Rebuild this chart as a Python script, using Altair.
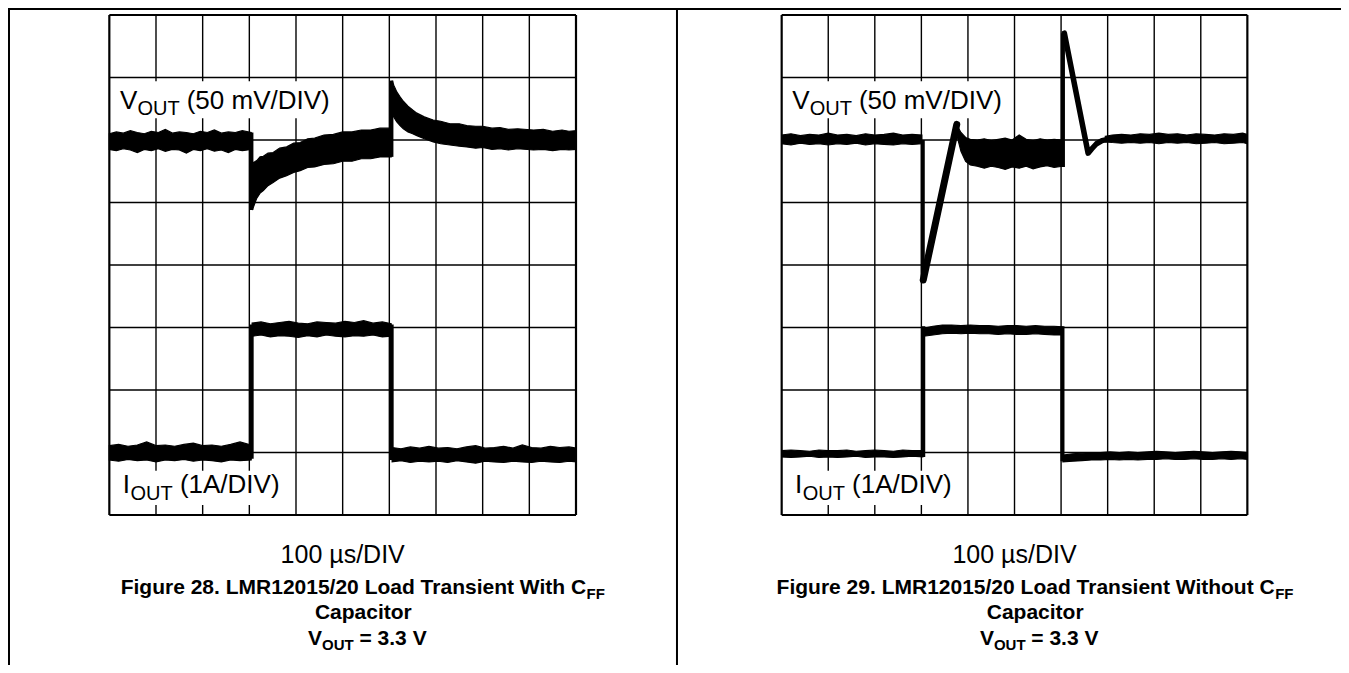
import altair as alt
import pandas as pd

FONT = "Liberation Sans, Arial, Helvetica, sans-serif"
W, H = 1333, 657
LX = [-2.1714, 26.393]   # left panel x domain (divisions)
RX = [-16.614, 12.011]   # right panel x domain (divisions)
YD = [-2.4, 8.112]       # y domain (divisions)

# ---------------- data (in scope divisions) ----------------
GRID_X_IN = [1, 2, 3, 4, 5, 6, 7, 8, 9]
GRID_X_OUT = [0, 10]
GRID_Y_IN = [1, 2, 3, 4, 5, 6, 7]
GRID_Y_OUT = [0, 8]

# Figure 28 (with CFF) - VOUT noisy band
L_V_PRE_X = [0.00, 0.15, 0.30, 0.45, 0.60, 0.75, 0.90, 1.05, 1.20, 1.35, 1.50, 1.65, 1.80, 1.95, 2.10, 2.25, 2.40, 2.55, 2.70, 2.85, 3.04]
L_V_PRE_HI = [6.10, 6.13, 6.11, 6.15, 6.12, 6.10, 6.14, 6.12, 6.17, 6.11, 6.13, 6.12, 6.10, 6.14, 6.12, 6.16, 6.11, 6.13, 6.12, 6.15, 6.12]
L_V_PRE_LO = [5.85, 5.83, 5.86, 5.84, 5.80, 5.85, 5.83, 5.86, 5.82, 5.85, 5.84, 5.79, 5.85, 5.83, 5.86, 5.82, 5.84, 5.80, 5.85, 5.83, 5.85]
L_V_LOAD_X = [3.06, 3.09, 3.16, 3.23, 3.30, 3.40, 3.51, 3.65, 3.80, 3.95, 4.09, 4.25, 4.40, 4.60, 4.80, 5.00, 5.20, 5.40, 5.60, 5.80, 6.04]
L_V_LOAD_HI = [5.55, 5.64, 5.67, 5.73, 5.74, 5.79, 5.80, 5.87, 5.89, 5.95, 5.96, 6.02, 6.03, 6.08, 6.09, 6.13, 6.13, 6.16, 6.16, 6.19, 6.19]
L_V_LOAD_LO = [4.88, 4.93, 5.07, 5.15, 5.19, 5.27, 5.32, 5.39, 5.43, 5.48, 5.51, 5.56, 5.57, 5.61, 5.62, 5.66, 5.66, 5.70, 5.70, 5.73, 5.73]
L_V_POST_X = [6.06, 6.10, 6.16, 6.23, 6.30, 6.40, 6.50, 6.59, 6.75, 6.94, 7.10, 7.30, 7.50, 7.66, 7.85, 8.00, 8.20, 8.37, 8.55, 8.75, 9.09, 9.30, 9.50, 9.70, 9.85, 10.0]
L_V_POST_HI = [6.95, 6.87, 6.77, 6.69, 6.62, 6.54, 6.48, 6.43, 6.37, 6.32, 6.30, 6.26, 6.26, 6.23, 6.22, 6.22, 6.19, 6.20, 6.17, 6.18, 6.16, 6.17, 6.14, 6.16, 6.14, 6.15]
L_V_POST_LO = [6.42, 6.36, 6.29, 6.23, 6.18, 6.13, 6.10, 6.07, 6.02, 5.97, 5.94, 5.92, 5.90, 5.89, 5.87, 5.88, 5.85, 5.86, 5.84, 5.86, 5.84, 5.85, 5.83, 5.85, 5.84, 5.85]
L_V_EDGE_X = [3.05, 6.05]
L_V_EDGE_Y1 = [4.88, 5.73]
L_V_EDGE_Y2 = [6.12, 6.95]

# Figure 28 - IOUT
L_I_X = [0.0, 0.2, 0.4, 0.6, 0.8, 1.0, 1.2, 1.4, 1.6, 1.8, 2.0, 2.2, 2.4, 2.6, 2.8, 3.04,
         3.06, 3.25, 3.45, 3.65, 3.85, 4.05, 4.25, 4.45, 4.65, 4.85, 5.05, 5.25, 5.45, 5.65, 5.85, 6.04,
         6.06, 6.25, 6.45, 6.65, 6.85, 7.05, 7.25, 7.45, 7.65, 7.85, 8.05, 8.25, 8.45, 8.65, 8.85, 9.05, 9.25, 9.45, 9.65, 9.85, 10.0]
L_I_HI = [1.11, 1.13, 1.10, 1.12, 1.17, 1.11, 1.12, 1.10, 1.13, 1.15, 1.11, 1.12, 1.10, 1.13, 1.17, 1.12,
          3.07, 3.09, 3.06, 3.08, 3.10, 3.07, 3.06, 3.09, 3.08, 3.07, 3.10, 3.08, 3.11, 3.07, 3.09, 3.06,
          1.08, 1.06, 1.09, 1.07, 1.10, 1.07, 1.08, 1.06, 1.09, 1.11, 1.07, 1.08, 1.10, 1.07, 1.12, 1.08, 1.07, 1.10, 1.08, 1.09, 1.07]
L_I_LO = [0.88, 0.86, 0.89, 0.87, 0.88, 0.85, 0.88, 0.87, 0.89, 0.86, 0.88, 0.87, 0.85, 0.88, 0.87, 0.88,
          2.86, 2.88, 2.85, 2.87, 2.86, 2.84, 2.87, 2.85, 2.88, 2.86, 2.85, 2.87, 2.86, 2.88, 2.85, 2.86,
          0.85, 0.87, 0.84, 0.86, 0.85, 0.86, 0.84, 0.87, 0.85, 0.83, 0.86, 0.85, 0.84, 0.86, 0.85, 0.84, 0.86, 0.85, 0.84, 0.86, 0.85]
L_I_EDGE_X = [3.05, 6.05]
L_I_EDGE_Y1 = [0.90, 0.88]
L_I_EDGE_Y2 = [3.05, 3.05]

# Figure 29 (without CFF) - VOUT
R_V_PRE_X = [0.0, 0.2, 0.4, 0.6, 0.8, 1.0, 1.2, 1.4, 1.6, 1.8, 2.0, 2.2, 2.4, 2.6, 2.8, 3.01]
R_V_PRE_HI = [6.08, 6.10, 6.07, 6.09, 6.08, 6.11, 6.08, 6.09, 6.07, 6.10, 6.08, 6.09, 6.11, 6.08, 6.09, 6.08]
R_V_PRE_LO = [5.94, 5.92, 5.95, 5.93, 5.94, 5.92, 5.94, 5.93, 5.95, 5.92, 5.94, 5.93, 5.92, 5.94, 5.93, 5.94]
R_V_RAMP1_X = [3.04, 3.76]
R_V_RAMP1_Y = [3.76, 6.25]
R_V_LOAD_X = [3.76, 3.85, 3.95, 4.05, 4.20, 4.35, 4.50, 4.65, 4.80, 4.95, 5.10, 5.25, 5.40, 5.55, 5.70, 5.85, 6.02]
R_V_LOAD_HI = [6.24, 6.12, 6.04, 6.01, 6.00, 6.02, 5.99, 6.01, 6.03, 6.00, 6.08, 6.01, 5.99, 6.02, 6.00, 6.01, 6.00]
R_V_LOAD_LO = [6.08, 5.82, 5.66, 5.60, 5.58, 5.55, 5.58, 5.56, 5.53, 5.57, 5.55, 5.58, 5.54, 5.57, 5.59, 5.56, 5.58]
R_V_RAMP2_X = [6.07, 6.58, 6.66, 6.76, 6.88, 7.00]
R_V_RAMP2_Y = [7.71, 5.79, 5.86, 5.94, 5.99, 6.01]
R_V_POST_X = [6.95, 7.10, 7.30, 7.50, 7.70, 7.90, 8.10, 8.30, 8.50, 8.70, 8.90, 9.10, 9.30, 9.50, 9.70, 9.90, 10.0]
R_V_POST_HI = [6.06, 6.08, 6.09, 6.08, 6.10, 6.09, 6.11, 6.09, 6.10, 6.08, 6.10, 6.09, 6.08, 6.10, 6.09, 6.11, 6.09]
R_V_POST_LO = [5.97, 5.96, 5.95, 5.96, 5.95, 5.96, 5.94, 5.96, 5.95, 5.96, 5.94, 5.95, 5.96, 5.94, 5.95, 5.96, 5.94]
R_V_EDGE_X = [3.03, 6.04]
R_V_EDGE_Y1 = [3.76, 5.57]
R_V_EDGE_Y2 = [6.00, 7.71]

# Figure 29 - IOUT
R_I_X = [0.0, 0.2, 0.4, 0.6, 0.8, 1.0, 1.2, 1.4, 1.6, 1.8, 2.0, 2.2, 2.4, 2.6, 2.8, 3.03,
         3.05, 3.25, 3.45, 3.65, 3.85, 4.05, 4.25, 4.45, 4.65, 4.85, 5.05, 5.25, 5.45, 5.65, 5.85, 6.02,
         6.04, 6.25, 6.45, 6.65, 6.85, 7.05, 7.25, 7.45, 7.65, 7.85, 8.05, 8.25, 8.45, 8.65, 8.85, 9.05, 9.25, 9.45, 9.65, 9.85, 10.0]
R_I_HI = [1.03, 1.04, 1.03, 1.02, 1.04, 1.03, 1.03, 1.04, 1.02, 1.03, 1.04, 1.03, 1.02, 1.04, 1.03, 1.03,
          2.99, 3.02, 3.04, 3.04, 3.03, 3.04, 3.03, 3.03, 3.02, 3.03, 3.03, 3.02, 3.03, 3.02, 3.02, 3.01,
          0.96, 0.98, 0.99, 1.00, 1.00, 1.01, 1.00, 1.01, 1.00, 1.01, 1.02, 1.01, 1.00, 1.01, 1.02, 1.01, 1.00, 1.01, 1.02, 1.01, 1.00]
R_I_LO = [0.93, 0.92, 0.93, 0.94, 0.92, 0.93, 0.92, 0.93, 0.94, 0.92, 0.93, 0.93, 0.92, 0.93, 0.94, 0.93,
          2.86, 2.88, 2.90, 2.91, 2.90, 2.91, 2.90, 2.90, 2.89, 2.90, 2.89, 2.89, 2.90, 2.89, 2.88, 2.88,
          0.85, 0.86, 0.87, 0.88, 0.88, 0.89, 0.88, 0.89, 0.88, 0.89, 0.89, 0.90, 0.89, 0.89, 0.90, 0.89, 0.89, 0.90, 0.89, 0.90, 0.89]
R_I_EDGE_X = [3.04, 6.03]
R_I_EDGE_Y1 = [0.93, 0.86]
R_I_EDGE_Y2 = [3.02, 3.02]

# label backgrounds (divisions)
LBL_BOX_X1 = [0.04, 0.04]
LBL_BOX_X2 = [4.82, 3.74]
LBL_BOX_Y1 = [6.35, 0.16]
LBL_BOX_Y2 = [6.94, 0.71]

# texts
TXT_REG26 = ["V", "(50 mV/DIV)", "I", "(1A/DIV)"]
TXT_REG26_X = [0.229, 1.658, 0.285, 1.512]
TXT_REG26_Y = [6.504, 6.504, 0.357, 0.357]
TXT_SUB20 = ["OUT", "OUT"]
TXT_SUB20_X = [0.604, 0.454]
TXT_SUB20_Y = [6.408, 0.240]
TXT_TIME = "100 µs/DIV"
CAP1_L = "Figure 28. LMR12015/20 Load Transient With C"
CAP1_R = "Figure 29. LMR12015/20 Load Transient Without C"
CAP_SUB = "FF"
CAP2 = "Capacitor"
CAP3_A, CAP3_B, CAP3_C = "V", "OUT", "= 3.3 V"


def X(field, dom):
    return alt.X(f"{field}:Q", scale=alt.Scale(domain=dom), axis=None)


def Y(field):
    return alt.Y(f"{field}:Q", scale=alt.Scale(domain=YD), axis=None)


def band(xs, hi, lo, dom):
    df = pd.DataFrame({"x": xs, "hi": hi, "lo": lo})
    return alt.Chart(df).mark_area(color="black", stroke="black", strokeWidth=1.2).encode(
        x=X("x", dom), y=Y("hi"), y2="lo:Q")


def line(xs, ys, dom, w):
    df = pd.DataFrame({"x": xs, "y": ys})
    return alt.Chart(df).mark_line(color="black", strokeWidth=w, strokeJoin="round", strokeCap="round").encode(
        x=X("x", dom), y=Y("y"))


def vrules(xs, y1, y2, dom, w):
    df = pd.DataFrame({"x": xs, "y": y1, "y2": y2})
    return alt.Chart(df).mark_rule(color="black", strokeWidth=w).encode(
        x=X("x", dom), y=Y("y"), y2="y2:Q")


def hrules(ys, x1, x2, dom, w):
    df = pd.DataFrame({"y": ys, "x": x1, "x2": x2})
    return alt.Chart(df).mark_rule(color="black", strokeWidth=w).encode(
        x=X("x", dom), x2="x2:Q", y=Y("y"))


def rects(x1, x2, y1, y2, dom):
    df = pd.DataFrame({"x": x1, "x2": x2, "y": y1, "y2": y2})
    return alt.Chart(df).mark_rect(color="white").encode(
        x=X("x", dom), x2="x2:Q", y=Y("y"), y2="y2:Q")


def texts(ts, xs, ys, dom, size, align, weight="normal"):
    df = pd.DataFrame({"t": ts, "x": xs, "y": ys})
    return alt.Chart(df).mark_text(align=align, baseline="alphabetic", font=FONT, fontSize=size,
                                   fontWeight=weight, color="black").encode(
        x=X("x", dom), y=Y("y"), text="t:N")


def panel(dom, v_layers, i_band, i_edges, cap1, cap1_right):
    lay = []
    lay.append(vrules(GRID_X_IN, [0] * len(GRID_X_IN), [8] * len(GRID_X_IN), dom, 1.4))
    lay.append(hrules(GRID_Y_IN, [0] * len(GRID_Y_IN), [10] * len(GRID_Y_IN), dom, 1.4))
    lay.append(rects(LBL_BOX_X1, LBL_BOX_X2, LBL_BOX_Y1, LBL_BOX_Y2, dom))
    lay.append(vrules(GRID_X_OUT, [0, 0], [8, 8], dom, 2.2))
    lay.append(hrules(GRID_Y_OUT, [0, 0], [10, 10], dom, 2.2))
    lay.extend(v_layers)
    lay.append(i_band)
    lay.append(i_edges)
    lay.append(texts(TXT_REG26, TXT_REG26_X, TXT_REG26_Y, dom, 26, "left"))
    lay.append(texts(TXT_SUB20, TXT_SUB20_X, TXT_SUB20_Y, dom, 20, "left"))
    lay.append(texts([TXT_TIME], [5.0], [-0.773], dom, 25, "center"))
    lay.append(texts([cap1], [cap1_right], [-1.264], dom, 21, "right", "bold"))
    lay.append(texts([CAP_SUB], [cap1_right + 0.01], [-1.344], dom, 15, "left", "bold"))
    lay.append(texts([CAP2], [5.443], [-1.664], dom, 21, "center", "bold"))
    lay.append(texts([CAP3_A, CAP3_C], [4.258, 5.361], [-2.08, -2.08], dom, 21, "left", "bold"))
    lay.append(texts([CAP3_B], [4.558], [-2.16], dom, 15, "left", "bold"))
    return lay


left_v = [
    band(L_V_PRE_X + L_V_LOAD_X + L_V_POST_X, L_V_PRE_HI + L_V_LOAD_HI + L_V_POST_HI,
         L_V_PRE_LO + L_V_LOAD_LO + L_V_POST_LO, LX),
    vrules(L_V_EDGE_X, L_V_EDGE_Y1, L_V_EDGE_Y2, LX, 3.5),
]
right_v = [
    band(R_V_PRE_X, R_V_PRE_HI, R_V_PRE_LO, RX),
    vrules(R_V_EDGE_X, R_V_EDGE_Y1, R_V_EDGE_Y2, RX, 4),
    line(R_V_RAMP1_X, R_V_RAMP1_Y, RX, 7),
    band(R_V_LOAD_X, R_V_LOAD_HI, R_V_LOAD_LO, RX),
    line(R_V_RAMP2_X, R_V_RAMP2_Y, RX, 5.5),
    band(R_V_POST_X, R_V_POST_HI, R_V_POST_LO, RX),
]

layers = []
# page frame
layers.append(hrules([8.096], [LX[0]], [LX[1]], LX, 2))
layers.append(vrules([-2.15, 12.164], [YD[0], YD[0]], [8.096, 8.096], LX, 2))
layers += panel(LX, left_v, band(L_I_X, L_I_HI, L_I_LO, LX),
                vrules(L_I_EDGE_X, L_I_EDGE_Y1, L_I_EDGE_Y2, LX, 4), CAP1_L, 10.217)
layers += panel(RX, right_v, band(R_I_X, R_I_HI, R_I_LO, RX),
                vrules(R_I_EDGE_X, R_I_EDGE_Y1, R_I_EDGE_Y2, RX, 4), CAP1_R, 10.587)

chart = alt.layer(*layers).resolve_scale(x="independent").properties(
    width=W, height=H, padding=0, autosize=alt.AutoSizeParams(type="none"),
    background="white"
).configure_view(stroke=None)

chart.save("out.html", embed_options={"renderer": "svg", "actions": False})
